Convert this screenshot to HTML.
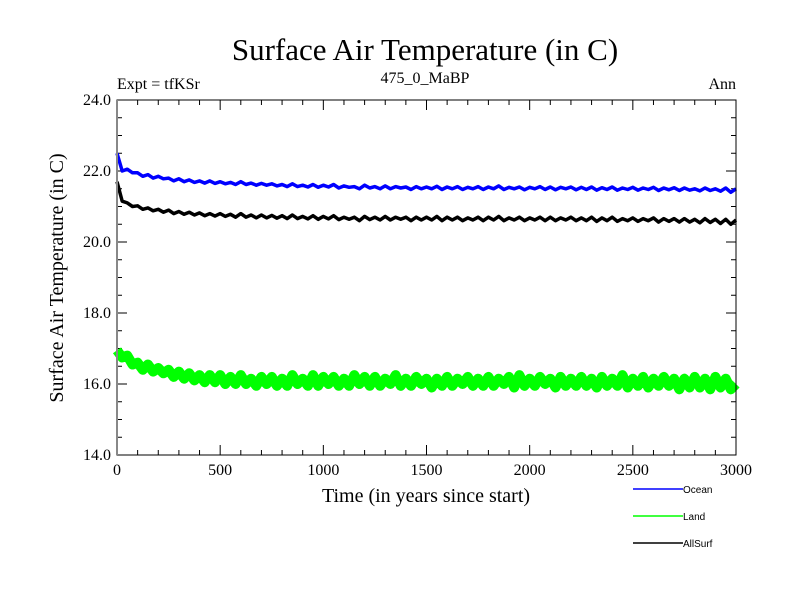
<!DOCTYPE html>
<html><head><meta charset="utf-8"><style>
body{margin:0;background:#fff}
svg text{font-family:"Liberation Serif",serif;fill:#000}
</style></head><body>
<svg width="800" height="600" id="c">
<text x="425" y="60" font-size="31" text-anchor="middle">Surface Air Temperature (in C)</text>
<text x="117" y="89" font-size="16">Expt = tfKSr</text>
<text x="425" y="83" font-size="16" text-anchor="middle">475_0_MaBP</text>
<text x="736" y="89" font-size="16" text-anchor="end">Ann</text>
<text x="426" y="502" font-size="20" text-anchor="middle">Time (in years since start)</text>
<text transform="translate(63,278) rotate(-90)" font-size="20" text-anchor="middle">Surface Air Temperature (in C)</text>
<g id="ticks"></g>
<g id="series"></g>
<rect x="117" y="100" width="619" height="355" fill="none" stroke="#000" stroke-width="1"/>
<line x1="117" y1="100" x2="117" y2="455" stroke="#888" stroke-width="2"/>
<g id="legend"></g>
</svg>
<script>
const years = Array.from({length:121},(_, i)=>i*25);
const ocean=[22.5,22.0,22.05,21.95,21.95,21.85,21.9,21.8,21.85,21.78,
21.8,21.72,21.78,21.7,21.75,21.68,21.72,21.66,21.72,21.65,
21.7,21.64,21.68,21.62,21.7,21.62,21.66,21.6,21.65,21.6,
21.64,21.58,21.62,21.56,21.64,21.56,21.6,21.55,21.62,21.54,
21.6,21.55,21.62,21.52,21.58,21.54,21.56,21.5,21.6,21.52,
21.56,21.5,21.58,21.5,21.56,21.52,21.55,21.48,21.56,21.5,
21.55,21.5,21.57,21.48,21.55,21.5,21.56,21.48,21.54,21.5,
21.56,21.48,21.55,21.5,21.58,21.48,21.54,21.5,21.55,21.47,
21.54,21.5,21.56,21.48,21.55,21.47,21.54,21.5,21.55,21.47,
21.54,21.48,21.55,21.46,21.53,21.48,21.55,21.46,21.52,21.48,
21.54,21.46,21.52,21.48,21.54,21.45,21.52,21.47,21.53,21.45,
21.52,21.46,21.5,21.44,21.52,21.45,21.5,21.43,21.52,21.4,21.5];
const land=[16.95,16.75,16.8,16.55,16.6,16.4,16.55,16.35,16.45,16.3,
16.4,16.2,16.35,16.15,16.3,16.1,16.25,16.05,16.25,16.05,
16.25,16.0,16.2,16.0,16.25,16.0,16.15,15.95,16.2,16.0,
16.2,15.95,16.15,15.95,16.25,16.0,16.15,15.95,16.25,15.95,
16.2,16.0,16.2,15.95,16.15,15.95,16.25,16.0,16.2,15.95,
16.2,15.95,16.15,16.0,16.25,15.95,16.15,15.95,16.2,16.0,
16.15,15.9,16.15,15.95,16.2,15.95,16.15,16.0,16.2,15.95,
16.15,15.95,16.2,15.95,16.15,16.0,16.2,15.9,16.25,15.95,
16.15,15.95,16.2,16.0,16.15,15.9,16.2,15.95,16.15,15.95,
16.2,15.95,16.15,15.9,16.2,15.95,16.15,15.95,16.25,15.9,
16.15,15.95,16.2,15.9,16.15,15.95,16.2,15.95,16.15,15.85,
16.15,15.9,16.2,15.9,16.15,15.85,16.2,15.9,16.15,15.85,16.0];
const allsurf=[21.7,21.15,21.1,21.0,21.02,20.92,20.96,20.88,20.92,20.84,
20.9,20.8,20.86,20.78,20.84,20.76,20.82,20.74,20.8,20.73,
20.8,20.72,20.78,20.7,20.8,20.7,20.76,20.68,20.76,20.68,
20.75,20.67,20.74,20.66,20.76,20.66,20.72,20.65,20.74,20.64,
20.72,20.65,20.74,20.63,20.7,20.64,20.7,20.6,20.72,20.63,
20.7,20.62,20.72,20.62,20.7,20.64,20.7,20.6,20.7,20.62,
20.7,20.62,20.72,20.6,20.7,20.62,20.7,20.6,20.68,20.62,
20.7,20.6,20.7,20.62,20.72,20.6,20.68,20.62,20.7,20.6,
20.68,20.62,20.7,20.6,20.7,20.6,20.68,20.62,20.7,20.6,
20.68,20.6,20.7,20.58,20.68,20.6,20.7,20.58,20.66,20.6,
20.68,20.58,20.66,20.6,20.68,20.56,20.66,20.58,20.66,20.56,
20.66,20.56,20.64,20.54,20.66,20.55,20.64,20.52,20.64,20.5,20.62];
const xTicks=[0,500,1000,1500,2000,2500,3000];
const yTicks=[14.0,16.0,18.0,20.0,22.0,24.0];
const seriesNames=["Ocean","Land","AllSurf"];
const seriesColors=["#0000ff","#00ff00","#000000"];
const seriesData=[ocean,land,allsurf];

const NS="http://www.w3.org/2000/svg";
const X0=117,X1=736,Y0=455,Y1=100,XMIN=0,XMAX=3000,YMIN=14,YMAX=24;
const sx=v=>X0+(v-XMIN)/(XMAX-XMIN)*(X1-X0);
const sy=v=>Y0-(v-YMIN)/(YMAX-YMIN)*(Y0-Y1);
function mk(t,a,p){const e=document.createElementNS(NS,t);for(const k in a)e.setAttribute(k,a[k]);p.appendChild(e);return e;}
const tg=document.getElementById('ticks');
for(let v=XMIN;v<=XMAX;v+=100){const maj=v%500===0;const L=maj?10:5;
 const t1=mk('line',{x1:sx(v),x2:sx(v),y1:Y0,y2:Y0-L,stroke:'#000'},tg);
 
 
 const t2=mk('line',{x1:sx(v),x2:sx(v),y1:Y1,y2:Y1+L,stroke:'#000'},tg);
 
 }
for(let v=YMIN;v<=YMAX+0.001;v+=0.5){const maj=Math.abs(v%2)<0.01;const L=maj?10:5;
 const t1=mk('line',{x1:X0,x2:X0+L,y1:sy(v),y2:sy(v),stroke:'#000'},tg);
 
 
 const t2=mk('line',{x1:X1,x2:X1-L,y1:sy(v),y2:sy(v),stroke:'#000'},tg);
 
 }
xTicks.forEach(v=>{const t=mk('text',{x:sx(v),y:Y0+20,'font-size':16,'text-anchor':'middle'},tg);t.textContent=v;
 
 });
yTicks.forEach(v=>{const t=mk('text',{x:X0-6,y:sy(v)+5,'font-size':16,'text-anchor':'end'},tg);t.textContent=v.toFixed(1);
 
 });
const sg=document.getElementById('series');
const widths=[3.5,10,3.5];
seriesData.forEach((d,i)=>{const pts=d.map((v,j)=>sx(years[j]).toFixed(1)+','+sy(v).toFixed(1)).join(' ');
 const p=mk('polyline',{points:pts,fill:'none',stroke:seriesColors[i],'stroke-width':widths[i],'stroke-linejoin':'round'},sg);
 
 });
const lg=document.getElementById('legend');
seriesNames.forEach((n,i)=>{const y=489+i*27;
 const l=mk('line',{x1:633,x2:683,y1:y,y2:y,stroke:seriesColors[i],'stroke-width':1.5},lg);
 
 
 const t=mk('text',{x:683,y:y+4,'font-size':10},lg);t.textContent=n;
 t.setAttribute('style','font-family:"Liberation Sans",sans-serif');
 
 });
</script>
</body></html>
